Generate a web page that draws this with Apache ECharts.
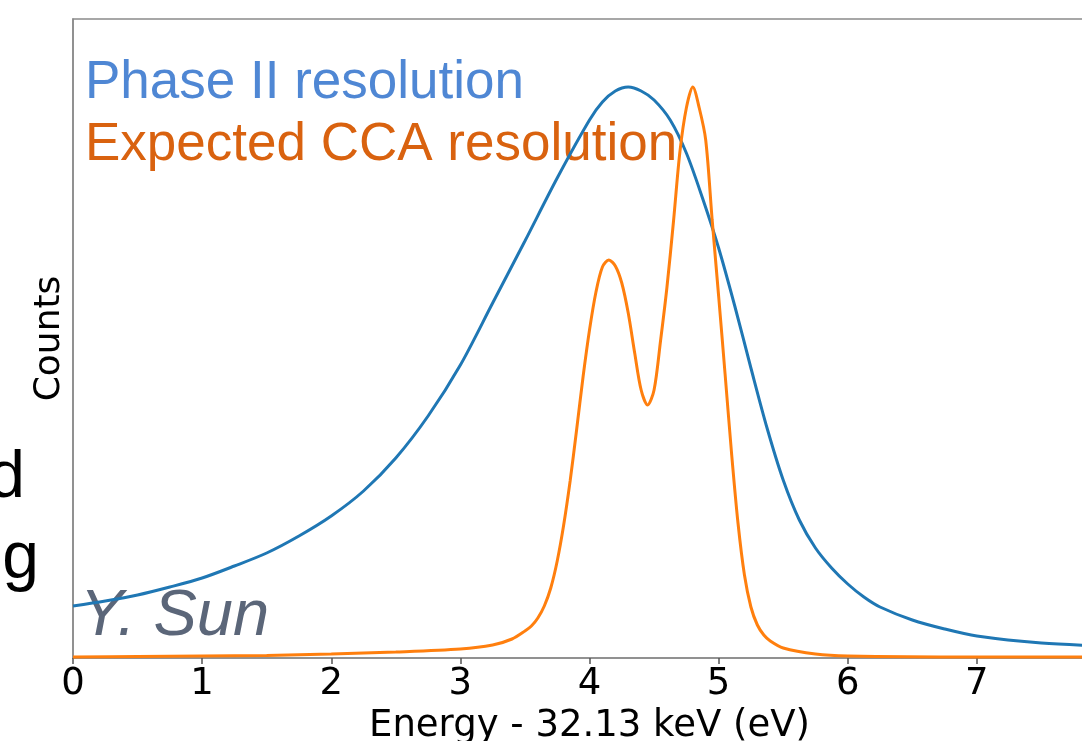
<!DOCTYPE html>
<html>
<head>
<meta charset="utf-8">
<script src="https://cdn.jsdelivr.net/npm/echarts@6/dist/echarts.min.js"></script>
<style>
html,body{margin:0;padding:0;background:#fff;}
#chart{width:1082px;height:741px;}
</style>
</head>
<body>
<div id="chart"></div>
<script>
// Energy offsets (eV) and counts (arbitrary units)
const phase2Energy = [0, 0.25, 0.5, 0.75, 1.0, 1.25, 1.5, 1.75, 2.0, 2.25, 2.5, 2.75, 3.0, 3.25, 3.5, 3.75, 4.0, 4.1, 4.2, 4.3, 4.4, 4.5, 4.625, 4.75, 4.875, 5.0, 5.125, 5.25, 5.375, 5.5, 5.625, 5.75, 5.875, 6.0, 6.125, 6.25, 6.5, 6.75, 7.0, 7.5, 8.0];
const phase2Counts = [52, 57, 63, 71, 80, 92, 105, 122, 142, 167, 200, 242, 293, 355, 417, 480, 538, 556, 567, 571, 567, 558, 538, 505, 460, 410, 352, 290, 230, 178, 138, 110, 90, 74, 61, 51, 38, 29, 22, 15, 12];

const ccaEnergy = [0, 0.5, 1.0, 1.5, 2.0, 2.5, 3.0, 3.25, 3.4, 3.5, 3.55, 3.6, 3.65, 3.7, 3.75, 3.8, 3.85, 3.9, 3.95, 4.0, 4.05, 4.1, 4.15, 4.2, 4.25, 4.3, 4.35, 4.4, 4.45, 4.5, 4.55, 4.6, 4.65, 4.7, 4.75, 4.8, 4.85, 4.9, 4.95, 5.0, 5.05, 5.1, 5.15, 5.2, 5.25, 5.3, 5.35, 5.4, 5.5, 5.75, 6.0, 7.0, 8.0];
const ccaCounts = [1, 1.5, 2, 2.5, 4, 6, 9, 13, 19, 27, 32, 40, 52, 70, 97, 133, 177, 228, 281, 328, 366, 391, 398, 392, 375, 345, 305, 268, 253, 268, 317, 371, 436, 506, 550, 571, 550, 518, 438, 362, 284, 205, 135, 83, 51, 33, 23, 17, 10, 4, 2, 1, 1];

const xTicks = [0, 1, 2, 3, 4, 5, 6, 7, 8];
const labels = {
  phase2: 'Phase II resolution',
  cca: 'Expected CCA resolution',
  xName: 'Energy - 32.13 keV (eV)',
  yName: 'Counts',
  credit: 'Y. Sun'
};

const pair = (xs, ys) => xs.map((x, i) => [x, ys[i]]);

const chart = echarts.init(document.getElementById('chart'), null, {renderer: 'canvas'});
chart.setOption({
  animation: false,
  backgroundColor: '#ffffff',
  grid: {
    left: 73, top: 19, width: 1033, height: 639,
    outerBoundsMode: 'none', containLabel: false,
    show: true, borderColor: '#8a8a8a', borderWidth: 1.5, backgroundColor: 'transparent'
  },
  xAxis: {
    type: 'value', min: xTicks[0], max: xTicks[xTicks.length - 1], interval: 1,
    name: labels.xName, nameLocation: 'middle', nameGap: 45,
    nameTextStyle: {fontFamily: 'DejaVu Sans', fontSize: 37, color: '#000'},
    axisLine: {show: true, lineStyle: {color: '#8a8a8a', width: 1.5}},
    axisTick: {show: true, inside: false, length: 6, lineStyle: {color: '#555', width: 1.5}},
    axisLabel: {fontFamily: 'DejaVu Sans', fontSize: 37, color: '#000', margin: 8},
    splitLine: {show: false}
  },
  yAxis: {
    type: 'value', min: 0, max: 639,
    name: labels.yName, nameLocation: 'middle', nameGap: 5, nameRotate: 90,
    nameTextStyle: {fontFamily: 'DejaVu Sans', fontSize: 36, color: '#000'},
    axisLine: {show: true, lineStyle: {color: '#8a8a8a', width: 1.5}},
    axisTick: {show: false},
    axisLabel: {show: false},
    splitLine: {show: false}
  },
  series: [
    {
      name: labels.phase2, type: 'line', data: pair(phase2Energy, phase2Counts),
      showSymbol: false, smooth: 0.3, lineStyle: {color: '#1f77b4', width: 3}, z: 2
    },
    {
      name: labels.cca, type: 'line', data: pair(ccaEnergy, ccaCounts),
      showSymbol: false, smooth: 0.3, lineStyle: {color: '#ff7f0e', width: 3}, z: 3
    }
  ],
  graphic: [
    {type: 'text', left: 85, top: 57, style: {text: labels.phase2, fill: '#4f87d4', font: '53px "Liberation Sans", Arial, sans-serif'}},
    {type: 'text', left: 85, top: 119, style: {text: labels.cca, fill: '#d9620f', font: '53px "Liberation Sans", Arial, sans-serif'}},
    {type: 'text', left: 80, top: 584, style: {text: labels.credit, fill: '#5b6679', font: 'italic 65px "Liberation Sans", Arial, sans-serif'}},
    {type: 'text', x: 25, y: 446, style: {text: 'd', fill: '#000', textAlign: 'right', font: '66px "Liberation Sans", Arial, sans-serif'}},
    {type: 'text', x: 39, y: 527, style: {text: 'g', fill: '#000', textAlign: 'right', font: '66px "Liberation Sans", Arial, sans-serif'}}
  ]
});
</script>
</body>
</html>
